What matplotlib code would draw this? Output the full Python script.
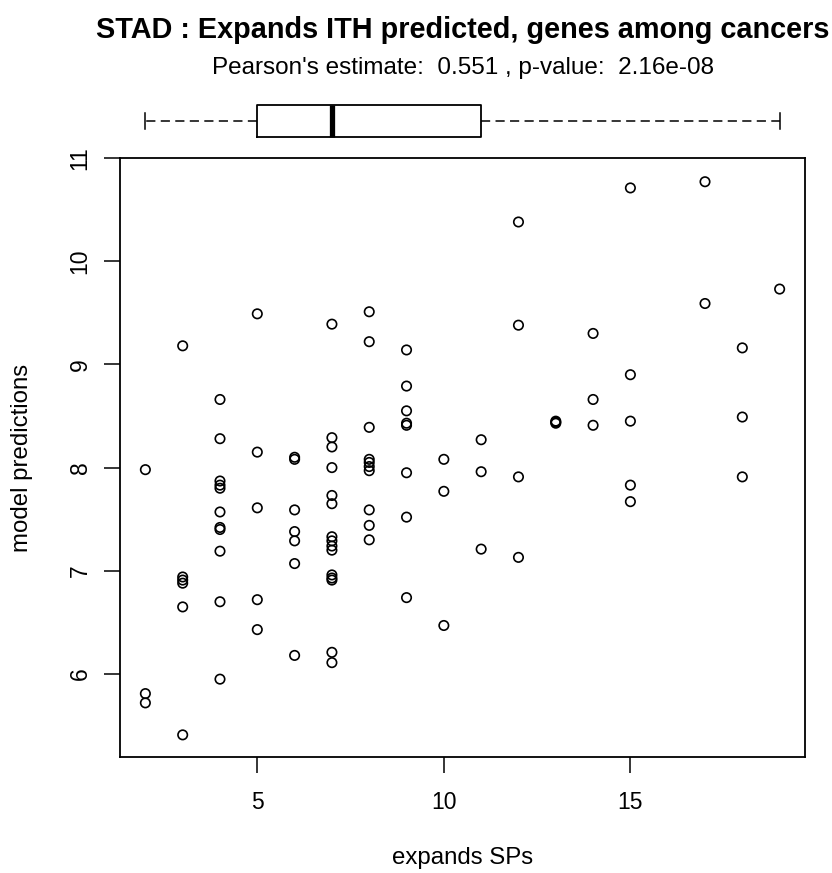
import math
import matplotlib
matplotlib.use("Agg")
import matplotlib.pyplot as plt

plt.rcParams['font.family'] = ['Liberation Sans', 'DejaVu Sans']

# expands SPs per column, with the model predictions
sp_2 = [7.98, 5.81, 5.72]
sp_3 = [9.18, 6.94, 6.91, 6.88, 6.65, 5.41]
sp_4 = [8.66, 8.28, 7.87, 7.83, 7.80, 7.57, 7.42, 7.40, 7.19, 6.70, 5.95]
sp_5 = [9.49, 8.15, 7.61, 6.72, 6.43]
sp_6 = [8.10, 8.08, 7.59, 7.38, 7.29, 7.07, 6.18]
sp_7 = [9.39, 8.29, 8.20, 8.00, 7.73, 7.65, 7.33, 7.29, 7.24, 7.20, 6.96, 6.93, 6.91, 6.21, 6.11]
sp_8 = [9.51, 9.22, 8.39, 8.08, 8.05, 8.01, 7.97, 7.59, 7.44, 7.30]
sp_9 = [9.14, 8.79, 8.55, 8.43, 8.41, 7.95, 7.52, 6.74]
sp_10 = [8.08, 7.77, 6.47]
sp_11 = [8.27, 7.96, 7.21]
sp_12 = [10.38, 9.38, 7.91, 7.13]
sp_13 = [8.45, 8.44, 8.43]
sp_14 = [9.30, 8.66, 8.41]
sp_15 = [10.71, 8.90, 8.45, 7.83, 7.67]
sp_17 = [10.77, 9.59]
sp_18 = [9.16, 8.49, 7.91]
sp_19 = [9.73]

groups = {2: sp_2, 3: sp_3, 4: sp_4, 5: sp_5, 6: sp_6, 7: sp_7, 8: sp_8, 9: sp_9,
          10: sp_10, 11: sp_11, 12: sp_12, 13: sp_13, 14: sp_14, 15: sp_15,
          17: sp_17, 18: sp_18, 19: sp_19}
x = []
y = []
for k, vals in groups.items():
    x += [k] * len(vals)
    y += vals

title = "STAD : Expands ITH predicted, genes among cancers"
subtitle = "Pearson's estimate:  0.551 , p-value:  2.16e-08"


def fivenum(v):
    # Tukey five-number summary, same as R's fivenum()
    v = sorted(v)
    n = len(v)
    n4 = math.floor((n + 3) / 2) / 2
    d = [1, n4, (n + 1) / 2, n + 1 - n4, n]
    return [0.5 * (v[math.floor(i) - 1] + v[math.ceil(i) - 1]) for i in d]


W, H = 832, 873
fig = plt.figure(figsize=(W / 100, H / 100), dpi=100)

# main scatter
left, right, top, bottom = 120, 805, 158, 757
ax = fig.add_axes([left / W, 1 - bottom / H, (right - left) / W, (bottom - top) / H])
ax.scatter(x, y, s=46, facecolors='none', edgecolors='black', linewidths=1.2)
xr = max(x) - min(x)
yr = max(y) - min(y)
ax.set_xlim(min(x) - 0.04 * xr, max(x) + 0.04 * xr)
ax.set_ylim(min(y) - 0.04 * yr, max(y) + 0.04 * yr)
ax.set_xticks([5, 10, 15])
ax.set_yticks([6, 7, 8, 9, 10, 11])
ax.tick_params(direction='out', length=11.5, width=1.1, labelsize=16.5)
ax.tick_params(axis='x', pad=13)
ax.tick_params(axis='y', pad=9)
for lab in ax.get_yticklabels():
    lab.set_rotation(90)
    lab.set_va('center')
for s in ax.spines.values():
    s.set_linewidth(1.3)
ax.set_xlabel("expands SPs", fontsize=17.3, va='center')
ax.set_ylabel("model predictions", fontsize=17.3, va='center')
ax.xaxis.set_label_coords(0.5, (bottom - 858) / (bottom - top))
ax.yaxis.set_label_coords((22 - left) / (right - left), 0.5)

# boxplot of x in top margin
bax = fig.add_axes([left / W, 1 - 142 / H, (right - left) / W, 42 / H], sharex=ax)
lo, q1, med, q3, hi = fivenum(x)
bax.bxp([dict(whislo=lo, q1=q1, med=med, q3=q3, whishi=hi)],
        orientation='horizontal', widths=0.75, showfliers=False,
        boxprops=dict(linewidth=1.3),
        medianprops=dict(color='black', linewidth=3.8),
        whiskerprops=dict(linestyle=(0, (6, 3.5)), linewidth=1.1),
        capprops=dict(linewidth=1.1), capwidths=0.4)
bax.set_ylim(0.5, 1.5)
bax.axis('off')

fig.text(463 / W, 1 - 30 / H, title, ha='center', va='center', fontsize=20.8, fontweight='bold')
fig.text(463 / W, 1 - 68 / H, subtitle, ha='center', va='center', fontsize=17.5)

fig.savefig("out.png", dpi=100)
